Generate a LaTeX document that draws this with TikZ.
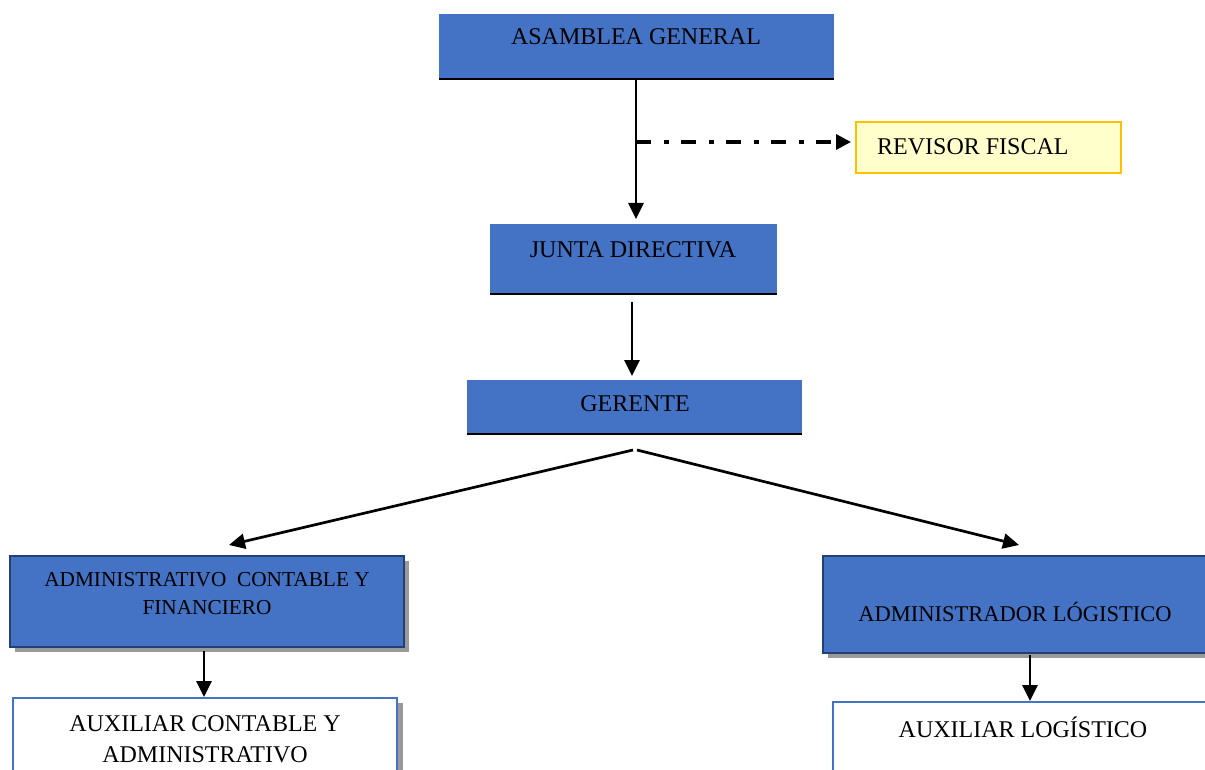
\documentclass[tikz,border=0pt]{standalone}
\usepackage{fontspec}
\setmainfont{Liberation Serif}
\usetikzlibrary{arrows.meta,shadows}
\definecolor{boxblue}{HTML}{4472C4}
\definecolor{navyline}{HTML}{243F73}
\definecolor{revfill}{HTML}{FFFFCC}
\definecolor{revline}{HTML}{FFC000}
\definecolor{shadowgray}{HTML}{9A9A9A}
\tikzset{
  boxbase/.style={rectangle, inner sep=0pt, outer sep=0pt},
  bluebox/.style={boxbase, fill=boxblue},
  deptbox/.style={boxbase, fill=boxblue, draw=navyline, line width=2.4pt,
    drop shadow={shadow xshift=5pt, shadow yshift=-5pt, fill=shadowgray, opacity=1}},
  auxbox/.style={boxbase, fill=white, draw=boxblue, line width=2.2pt,
    drop shadow={shadow xshift=6pt, shadow yshift=-5pt, fill=shadowgray, opacity=1}},
  revbox/.style={boxbase, fill=revfill, draw=revline, line width=2.2pt},
  label/.style={inner sep=0pt, text=black, align=center},
  bigtxt/.style={label, font=\fontsize{24}{31}\selectfont},
  conn/.style={line width=2.7pt, -{Triangle[length=16pt,width=15pt]}},
  dashconn/.style={line width=3.2pt, dash pattern=on 15pt off 13pt on 5pt off 12pt,
    -{Triangle[length=15pt,width=15pt]}},
  baseline rule/.style={line width=2.8pt}
}
\begin{document}
\begin{tikzpicture}[x=1pt,y=-1pt]
\useasboundingbox (0,0) rectangle (1205,770);
\clip (0,0) rectangle (1205,770);

% top boxes
\node[bluebox, minimum width=395pt, minimum height=65pt] (asamblea) at (636.5,46.5) {};
\draw[baseline rule] (asamblea.south west) -- (asamblea.south east);
\node[bigtxt] (asambleaT) at (636,37) {ASAMBLEA GENERAL};

\node[revbox, minimum width=265pt, minimum height=51pt] (revisor) at (988.5,147.5) {};
\node[bigtxt, anchor=west] (revisorT) at (877,147) {REVISOR FISCAL};

\node[bluebox, minimum width=287pt, minimum height=70pt] (junta) at (633.5,259) {};
\draw[baseline rule] (junta.south west) -- (junta.south east);
\node[bigtxt] (juntaT) at (633,250) {JUNTA DIRECTIVA};

\node[bluebox, minimum width=335pt, minimum height=54pt] (gerente) at (634.5,407) {};
\draw[baseline rule] (gerente.south west) -- (gerente.south east);
\node[bigtxt] (gerenteT) at (635,404) {GERENTE};

% department boxes
\node[deptbox, minimum width=394pt, minimum height=91pt] (admin) at (207,601.5) {};
\node[label, font=\fontsize{21.3}{28}\selectfont] (adminT) at (207,594) {ADMINISTRATIVO\ \ CONTABLE Y\\FINANCIERO};

\node[deptbox, minimum width=392pt, minimum height=97pt] (adminlog) at (1019,604.5) {};
\node[label, font=\fontsize{22.5}{28}\selectfont] (adminlogT) at (1015,612) {ADMINISTRADOR LÓGISTICO};

\node[auxbox, minimum width=384pt, minimum height=90pt] (auxcont) at (205,743) {};
\node[bigtxt] (auxcontT) at (205,739) {AUXILIAR CONTABLE Y\\ADMINISTRATIVO};

\node[auxbox, minimum width=384pt, minimum height=90pt] (auxlog) at (1025,747) {};
\node[bigtxt] (auxlogT) at (1023,727) {AUXILIAR LOGÍSTICO};

% connectors
\coordinate (fork) at (636,142);
\draw[line width=2.7pt] (asamblea.south -| fork) -- (fork);
\draw[conn, shorten >=5pt] (fork) -- (fork |- junta.north);
\draw[dashconn, shorten >=5pt] (fork) -- (fork -| revisor.west);

\coordinate (jstart) at (632,302);
\draw[conn, shorten >=4pt] (jstart) -- (jstart |- gerente.north);

\coordinate (apexL) at (633,450);
\coordinate (apexR) at (637,450);
\coordinate (leftend) at (229,545);
\coordinate (rightend) at (1019,545);
\draw[conn] (apexL) -- (leftend);
\draw[conn] (apexR) -- (rightend);

\coordinate (astart) at (204,651);
\draw[conn, shorten >=1pt] (astart) -- (astart |- auxcont.north);
\coordinate (lstart) at (1030,655);
\draw[conn, shorten >=1pt] (lstart) -- (lstart |- auxlog.north);
\end{tikzpicture}
\end{document}
